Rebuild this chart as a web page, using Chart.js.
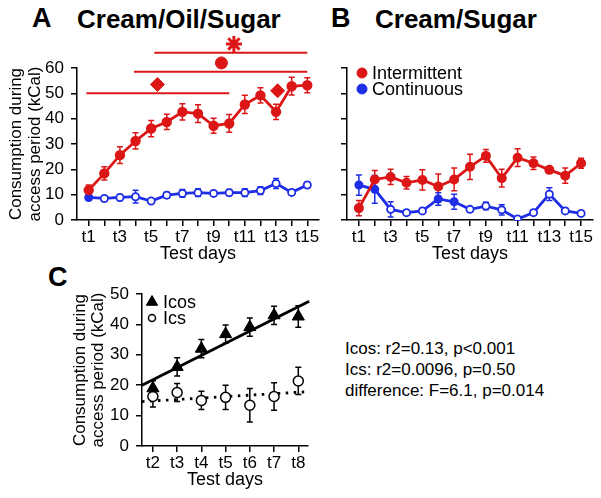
<!DOCTYPE html>
<html lang="en">
<head>
<meta charset="UTF-8">
<title>Consumption during access period</title>
<script src="https://cdn.jsdelivr.net/npm/chart.js@4.4.0/dist/chart.umd.min.js"></script>
<style>
  body { margin: 0; background: #fff; }
  #fig { position: relative; width: 601px; height: 498px; overflow: hidden; font-family: 'Liberation Sans', Arial, sans-serif; color: #000; }
  .panel { position: absolute; }
  .lbl { position: absolute; font-weight: bold; line-height: 1; white-space: nowrap; }
  .stats { position: absolute; left: 345px; top: 338px; font-size: 17px; line-height: 21px; white-space: nowrap; }
</style>
</head>
<body>
<div id="fig">
  <div class="lbl" style="left:32px;top:5px;font-size:27px">A</div>
  <div class="lbl" style="left:77px;top:6px;font-size:26px">Cream/Oil/Sugar</div>
  <div class="lbl" style="left:331px;top:5px;font-size:27px">B</div>
  <div class="lbl" style="left:375px;top:6px;font-size:26px">Cream/Sugar</div>
  <div class="lbl" style="left:48px;top:264px;font-size:27px">C</div>

  <div class="panel" style="left:0;top:0;width:330px;height:270px"><canvas id="chartA"></canvas></div>
  <div class="panel" style="left:300px;top:0;width:301px;height:270px"><canvas id="chartB"></canvas></div>
  <div class="panel" style="left:60px;top:262px;width:270px;height:236px"><canvas id="chartC"></canvas></div>

  <div class="stats">
    Icos: r2=0.13, p&lt;0.001<br>
    Ics: r2=0.0096, p=0.50<br>
    difference: F=6.1, p=0.014
  </div>
</div>

<script>
// ---- data ----
var testDays = ['t1','t2','t3','t4','t5','t6','t7','t8','t9','t10','t11','t12','t13','t14','t15'];

// A: Cream/Oil/Sugar
var aIntermittent    = [11.8, 18.4, 25.6, 31.2, 36.1, 38.7, 42.7, 42, 37.2, 38.1, 45.6, 49.2, 42.7, 52.8, 53.2];
var aIntermittentErr = [2, 2.6, 3.3, 3.2, 3.2, 3, 3.2, 3.5, 3, 3.5, 3.6, 3, 3, 3.5, 3];
var aContinuous      = [8.9, 8.5, 8.9, 9.2, 7.5, 9.8, 10.5, 10.8, 10.5, 10.8, 10.8, 11.6, 14.4, 10.9, 13.8];
var aContinuousErr   = [1, 1, 1.2, 2.5, 0.8, 1.2, 1.5, 1.5, 1, 1.2, 1.5, 1.5, 2, 1, 1];
var aContinuousSig   = [1, 0, 0, 0, 0, 0, 0, 0, 0, 0, 0, 0, 0, 0, 0];

// A: significance bars  [from day, to day, level]  and markers [day, level]
var aSigBars     = [[0.85, 10, 50], [3.9, 15, 58.5], [5.2, 15, 66]];
var aSigDiamonds = [[5.4, 53.5], [13.1, 51]];
var aSigDot      = [[9.5, 62]];
var aSigStar     = [[10.3, 69.5]];

// B: Cream/Sugar
var bIntermittent    = [4.7, 16, 17, 14.7, 15.8, 13.2, 16, 21, 25.3, 16.5, 24.6, 22.4, 19.8, 17.5, 22.4];
var bIntermittentErr = [3, 3.5, 3, 2.5, 4, 5, 4.5, 5, 2.5, 3.5, 3.5, 2.5, 1.2, 3, 2];
var bContinuous      = [13.8, 12.1, 4.2, 2.9, 3.6, 8.3, 7.2, 4.2, 5.5, 4, 0.4, 2.9, 10.2, 3.6, 2.6];
var bContinuousErr   = [4, 5.5, 3, 1, 1, 2.5, 3, 1, 1.5, 2, 0.5, 1, 2.5, 1, 1];
var bContinuousSig   = [1, 1, 0, 0, 0, 1, 1, 0, 0, 0, 0, 0, 0, 0, 0];

// C: days t2..t8
var cDays    = [2, 3, 4, 5, 6, 7, 8];
var cIcos    = [19, 26, 32, 36.8, 39.1, 43, 42.6];
var cIcosErr = [2.5, 3, 3, 3, 3, 3, 3.5];
var cIcs     = [16.3, 17.6, 15, 16, 13.4, 16.3, 21.4];
var cIcsErr  = [3.5, 3, 3, 4, 5.5, 4.5, 4.5];
var cIcosFit = [[1.55, 20], [8.45, 47.6]];
var cIcsFit  = [[1.55, 14.6], [8.45, 17.9]];

var RED = '#dc1616';
var BLUE = '#1e2de6';

Chart.defaults.font.family = "'Liberation Sans', Arial, sans-serif";
Chart.defaults.color = '#000';

function pts(xs, ys) { return ys.map(function (v, i) { return { x: xs[i], y: v }; }); }
var dayNums = testDays.map(function (d, i) { return i + 1; });

// error bars drawn under the markers
var errorBars = {
  id: 'errorBars',
  beforeDatasetsDraw: function (chart) {
    var ctx = chart.ctx;
    chart.data.datasets.forEach(function (ds, i) {
      if (!ds.errors) return;
      var meta = chart.getDatasetMeta(i);
      var ys = chart.scales[meta.yAxisID];
      ctx.save();
      ctx.strokeStyle = ds.errColor;
      ctx.lineWidth = 1.5;
      meta.data.forEach(function (pt, j) {
        var e = ds.errors[j];
        var v = ds.data[j].y;
        var t = ys.getPixelForValue(v + e), b = ys.getPixelForValue(v - e);
        ctx.beginPath();
        ctx.moveTo(pt.x, t); ctx.lineTo(pt.x, b);
        ctx.moveTo(pt.x - 3, t); ctx.lineTo(pt.x + 3, t);
        ctx.moveTo(pt.x - 3, b); ctx.lineTo(pt.x + 3, b);
        ctx.stroke();
      });
      ctx.restore();
    });
  }
};

// points that sit well above the plot area are skipped by Chart.js; draw them here
var outsidePoints = {
  id: 'outsidePoints',
  afterDatasetsDraw: function (chart) {
    var big = { left: -1e4, top: -1e4, right: 1e4, bottom: 1e4 };
    chart.data.datasets.forEach(function (ds, i) {
      if (!ds.outside) return;
      chart.getDatasetMeta(i).data.forEach(function (el) { el.draw(chart.ctx, big); });
    });
  }
};

// small legend inside the plot
var keyBox = {
  id: 'keyBox',
  afterDraw: function (chart, args, o) {
    if (!o.items) return;
    var ctx = chart.ctx;
    var a = chart.chartArea;
    o.items.forEach(function (it, k) {
      var x = a.left + o.dx, y = a.top + o.dy + k * o.gap;
      ctx.save();
      ctx.fillStyle = it.fill;
      ctx.strokeStyle = it.stroke;
      ctx.lineWidth = it.bw;
      Chart.helpers.drawPoint(ctx, { pointStyle: it.style, radius: it.r, borderWidth: it.bw, rotation: 0 }, x, y);
      ctx.fillStyle = '#000';
      ctx.font = o.font;
      ctx.textBaseline = 'middle';
      ctx.fillText(it.text, x + o.tx, y + 1);
      ctx.restore();
    });
  }
};

function xAxis(min, max, ticks, label, showFn, h) {
  return {
    type: 'linear', min: min, max: max,
    afterBuildTicks: function (s) { s.ticks = ticks.map(function (v) { return { value: v }; }); },
    afterFit: function (s) { s.height = h; },
    border: { display: true, color: '#000', width: 1.5 },
    grid: { drawOnChartArea: false, color: '#000', lineWidth: 1.5, tickLength: 6 },
    ticks: { autoSkip: false, maxRotation: 0, padding: 1, font: { size: 17 },
             callback: function (v) { return showFn(v); } },
    title: { display: true, text: label, font: { size: 18 }, padding: { top: 0, bottom: 1 } }
  };
}

function yAxis(max, w, title, labels, tpad) {
  return {
    min: 0, max: max,
    afterFit: function (s) { s.width = w; },
    border: { display: true, color: '#000', width: 1.5 },
    grid: { drawOnChartArea: false, color: '#000', lineWidth: 1.5, tickLength: 6 },
    ticks: { stepSize: 10, padding: 7, font: { size: 17 },
             callback: function (v) { return labels ? v : ''; } },
    title: title ? { display: true, text: title, font: { size: 17, lineHeight: 1.1 }, padding: { top: tpad, bottom: 0 } } : { display: false }
  };
}

var oddDay = function (v) { return v % 2 === 1 ? testDays[v - 1] : ''; };
var yTitle = ['Consumption during', 'access period (kCal)'];

function seriesLine(data, err, color, fills, r, bw) {
  return {
    data: data, errors: err, errColor: color,
    borderColor: color, borderWidth: 2.8,
    pointRadius: r, pointBorderWidth: bw, pointBorderColor: color,
    pointBackgroundColor: fills.map(function (f) { return f ? color : '#fff'; })
  };
}

function xy(p) { return { x: p[0], y: p[1] }; }

function sigDatasets() {
  var out = [];
  aSigBars.forEach(function (b) {
    out.push({ data: [{ x: b[0], y: b[2] }, { x: b[1], y: b[2] }], borderColor: RED, borderWidth: 2,
               pointRadius: 0, clip: false });
  });
  out.push({ data: aSigDiamonds.map(xy), showLine: false,
             pointStyle: 'rectRot', pointRadius: 7, backgroundColor: RED, borderColor: RED, clip: false });
  out.push({ data: aSigDot.map(xy), showLine: false,
             pointStyle: 'circle', pointRadius: 6, backgroundColor: RED, borderColor: RED, clip: false });
  out.push({ data: aSigStar.map(xy), showLine: false, outside: true,
             pointStyle: 'star', pointRadius: 8, pointBorderWidth: 3, borderColor: RED, backgroundColor: RED, clip: false });
  return out;
}

var common = {
  responsive: true, maintainAspectRatio: false, animation: false, events: [],
  plugins: { legend: { display: false }, tooltip: { enabled: false } }
};

// ---- A ----
new Chart(document.getElementById('chartA'), {
  type: 'line',
  data: { datasets: [
    seriesLine(pts(dayNums, aIntermittent), aIntermittentErr, RED, aIntermittent.map(function () { return 1; }), 4.2, 2),
    seriesLine(pts(dayNums, aContinuous), aContinuousErr, BLUE, aContinuousSig, 3.6, 1.8)
  ].concat(sigDatasets()) },
  options: Object.assign({}, common, {
    layout: { padding: { left: 0, top: 68, right: 7, bottom: 4 } },
    scales: { x: xAxis(0.25, 15.75, dayNums, 'Test days', oddDay, 46),
              y: yAxis(60, 77, yTitle, true, 7) }
  }),
  plugins: [errorBars, outsidePoints]
});

// ---- B ----
new Chart(document.getElementById('chartB'), {
  type: 'line',
  data: { datasets: [
    seriesLine(pts(dayNums, bIntermittent), bIntermittentErr, RED, bIntermittent.map(function () { return 1; }), 4, 2),
    seriesLine(pts(dayNums, bContinuous), bContinuousErr, BLUE, bContinuousSig, 3.6, 1.8)
  ] },
  options: Object.assign({}, common, {
    layout: { padding: { left: 0, top: 68, right: 8, bottom: 4 } },
    scales: { x: xAxis(0.25, 15.75, dayNums, 'Test days', oddDay, 46),
              y: yAxis(60, 47, null, false, 0) },
    plugins: Object.assign({}, common.plugins, {
      keyBox: { dx: 15, dy: 5, gap: 16, tx: 10, font: "18px 'Liberation Sans', Arial, sans-serif",
        items: [
          { text: 'Intermittent', style: 'circle', r: 5, bw: 1, fill: RED, stroke: RED },
          { text: 'Continuous', style: 'circle', r: 5, bw: 1, fill: BLUE, stroke: BLUE }
        ] }
    })
  }),
  plugins: [errorBars, keyBox]
});

// ---- C ----
new Chart(document.getElementById('chartC'), {
  type: 'line',
  data: { datasets: [
    { data: pts(cDays, cIcos), errors: cIcosErr, errColor: '#000', showLine: false,
      pointStyle: 'triangle', pointRadius: 7, backgroundColor: '#000', borderColor: '#000', borderWidth: 1 },
    { data: pts(cDays, cIcs), errors: cIcsErr, errColor: '#000', showLine: false,
      pointStyle: 'circle', pointRadius: 5, backgroundColor: '#fff', borderColor: '#000', borderWidth: 1.5 },
    { data: cIcosFit.map(xy), borderColor: '#000', borderWidth: 2.8, pointRadius: 0, clip: false },
    { data: cIcsFit.map(xy), borderColor: '#000', borderWidth: 2.8,
      borderDash: [2.5, 5.5], pointRadius: 0, clip: false }
  ] },
  options: Object.assign({}, common, {
    layout: { padding: { left: 0, top: 32, right: 22, bottom: 6 } },
    scales: { x: xAxis(1.55, 8.4, cDays, 'Test days', function (v) { return 't' + v; }, 46),
              y: yAxis(50, 82, yTitle, true, 10.5) },
    plugins: Object.assign({}, common.plugins, {
      keyBox: { dx: 10, dy: 8, gap: 16, tx: 11, font: "18px 'Liberation Sans', Arial, sans-serif",
        items: [
          { text: 'Icos', style: 'triangle', r: 6.5, bw: 1, fill: '#000', stroke: '#000' },
          { text: 'Ics', style: 'circle', r: 3.5, bw: 1.5, fill: '#fff', stroke: '#000' }
        ] }
    })
  }),
  plugins: [errorBars, keyBox]
});
</script>
</body>
</html>
